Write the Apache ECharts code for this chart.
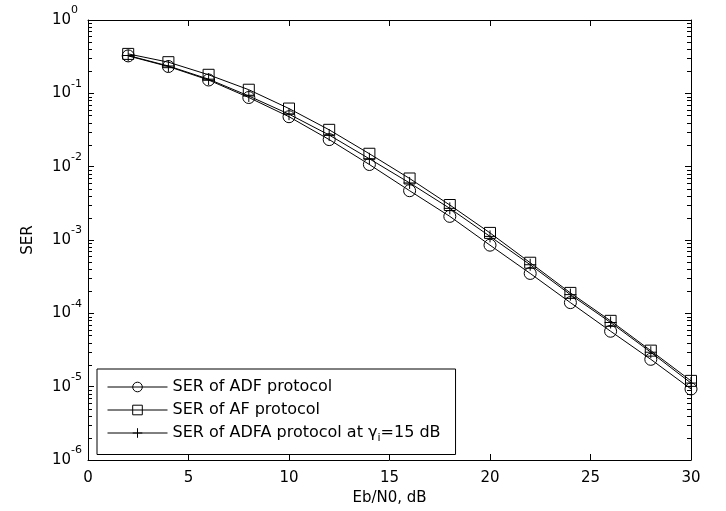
<!DOCTYPE html>
<html><head><meta charset="utf-8">
<script src="https://cdn.jsdelivr.net/npm/echarts@6/dist/echarts.min.js"></script>
<style>html,body{margin:0;padding:0;background:#fff}#c{width:726px;height:511px}</style>
</head><body><div id="c"></div>
<script>
var snr = [2,4,6,8,10,12,14,16,18,20,22,24,26,28,30];
var serADF  = [0.324,0.232,0.152,0.0877,0.048,0.0234,0.0107,0.0047,0.0021,8.5e-4,3.5e-4,1.4e-4,5.7e-5,2.36e-5,9.3e-6];
var serAF   = [0.345,0.266,0.179,0.112,0.062,0.0318,0.015,0.0069,0.0030,1.25e-3,4.9e-4,1.9e-4,7.9e-5,3.1e-5,1.2e-5];
var serADFA = [0.328,0.236,0.156,0.092,0.052,0.027,0.0128,0.0060,0.0027,1.12e-3,4.6e-4,1.8e-4,7.5e-5,2.95e-5,1.12e-5];
var xTicks = [0,5,10,15,20,25,30];
var yDecades = [-6,-5,-4,-3,-2,-1,0];
var seriesNames = ['SER of ADF protocol','SER of AF protocol','SER of ADFA protocol at γi=15 dB'];

var minorVals = [];
for (var k = -6; k < 0; k++) for (var m = 2; m <= 9; m++) minorVals.push(m * Math.pow(10, k));

function pairs(ys){ return snr.map(function(x,i){ return [x, ys[i]]; }); }
var FONT = 'DejaVu Sans, Liberation Sans, Arial, sans-serif';
var plusPath = 'path://M0,-5L0,5M-5,0L5,0';

var chart = echarts.init(document.getElementById('c'), null, {renderer:'canvas'});
var lineBase = {type:'line', xAxisIndex:0, yAxisIndex:0, symbolSize:12, lineStyle:{color:'#000', width:1}, itemStyle:{color:'rgba(255,255,255,0)', borderColor:'#000', borderWidth:1}, emphasis:{disabled:true}, animation:false, z:3};
function tickStyle(){ return {show:true, inside:true, length:6, lineStyle:{color:'#000', width:1}}; }
function axLine(){ return {show:true, onZero:false, lineStyle:{color:'#000', width:1}}; }

chart.setOption({
  animation:false,
  grid:{left:88, right:35, top:20, bottom:50, show:false},
  legend:{
    orient:'vertical', left:97, top:369, data:seriesNames,
    backgroundColor:'#fff', borderColor:'#000', borderWidth:1,
    padding:[10,15,11,10], itemGap:7, itemWidth:60, itemHeight:12,
    lineStyle:{width:1}, itemStyle:{borderWidth:1},
    textStyle:{fontFamily:FONT, fontSize:16, color:'#000',
      rich:{n:{fontFamily:FONT, fontSize:16, color:'#000'}, sub:{fontFamily:FONT, fontSize:11, color:'#000', padding:[10,0,0,0]}}},
    formatter:function(name){
      if (name.indexOf('γi') >= 0) return '{n|SER of ADFA protocol at γ}{sub|i}{n|=15 dB}';
      return name;
    },
    selectedMode:false
  },
  xAxis:[
    {type:'value', min:0, max:30, interval:5, position:'bottom',
     name:'Eb/N0, dB', nameLocation:'middle', nameGap:31, nameTextStyle:{fontFamily:FONT, fontSize:15, color:'#000'},
     axisLine:axLine(), axisTick:tickStyle(),
     axisLabel:{fontFamily:FONT, fontSize:15, color:'#000', margin:11,
       formatter:function(v){ return xTicks.indexOf(v)>=0 ? String(v) : ''; }},
     splitLine:{show:false}},
    {type:'value', min:0, max:30, interval:5, position:'top',
     axisLine:axLine(), axisTick:tickStyle(), axisLabel:{show:false}, splitLine:{show:false}}
  ],
  yAxis:[
    {type:'log', logBase:10, min:1e-6, max:1, position:'left',
     name:'SER', nameLocation:'middle', nameGap:52, nameRotate:90, nameTextStyle:{fontFamily:FONT, fontSize:15, color:'#000'},
     axisLine:axLine(), axisTick:tickStyle(),
     axisLabel:{margin:36, align:'left', formatter:function(v){
        var e = Math.round(Math.log(v)/Math.LN10);
        if (yDecades.indexOf(e) < 0) return '';
        return '{b|10}{s|' + e + '}'; },
       rich:{b:{fontFamily:FONT, fontSize:15, color:'#000', lineHeight:30, verticalAlign:'middle'},
             s:{fontFamily:FONT, fontSize:11, color:'#000', lineHeight:12, verticalAlign:'top'}}},
     splitLine:{show:false}},
    {type:'log', logBase:10, min:1e-6, max:1, position:'right',
     axisLine:axLine(), axisTick:tickStyle(), axisLabel:{show:false}, splitLine:{show:false}}
  ],
  series:[
    Object.assign({}, lineBase, {name:seriesNames[0], symbol:'circle', data:pairs(serADF)}),
    Object.assign({}, lineBase, {name:seriesNames[1], symbol:'rect', symbolSize:11, data:pairs(serAF)}),
    Object.assign({}, lineBase, {name:seriesNames[2], symbol:plusPath, symbolSize:12, data:pairs(serADFA)})
  ]
});

// minor log ticks on the left and right frame, placed through the axis scale
var xl = chart.convertToPixel({xAxisIndex:0}, 0);
var xr = chart.convertToPixel({xAxisIndex:0}, 30);
var g = [];
minorVals.forEach(function(v){
  var y = Math.round(chart.convertToPixel({yAxisIndex:0}, v)) + 0.5;
  g.push({type:'line', silent:true, z:10, shape:{x1:xl, y1:y, x2:xl+4, y2:y}, style:{stroke:'#000', lineWidth:1}});
  g.push({type:'line', silent:true, z:10, shape:{x1:xr, y1:y, x2:xr-4, y2:y}, style:{stroke:'#000', lineWidth:1}});
});
chart.setOption({graphic:g});
</script></body></html>
